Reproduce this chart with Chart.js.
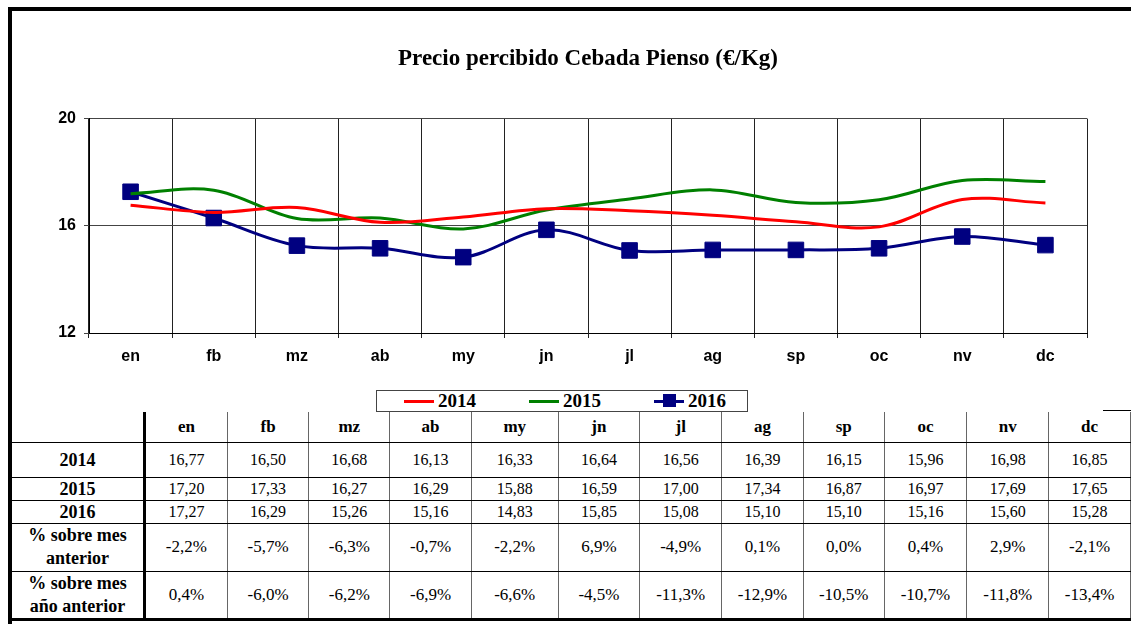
<!DOCTYPE html>
<html lang="es">
<head>
<meta charset="utf-8">
<title>Precio percibido Cebada Pienso</title>
<script src="https://cdn.jsdelivr.net/npm/chart.js@4.4.1/dist/chart.umd.min.js"></script>
<style>
  html, body { margin: 0; padding: 0; background: #fff; }
  #wrap { position: relative; width: 1131px; height: 624px; overflow: hidden; background: #fff; }
  #marco { position: absolute; left: 8px; top: 7px; width: 1200px; height: 700px;
           border-left: 4px solid #000; border-top: 4px solid #000; }
  #grafico { position: absolute; left: 0; top: 0; }
  #leyenda { position: absolute; left: 376px; top: 390px; width: 372px; height: 22px;
             border: 1px solid #444; background: #fff; display: flex; align-items: center;
             padding-left: 27px; box-sizing: border-box;
             font: bold 19px 'Liberation Serif', 'Times New Roman', serif; color: #000; }
  #leyenda .item { display: flex; align-items: center; margin-right: 53px; }
  #leyenda .simbolo { position: relative; width: 30px; height: 12px; margin-right: 4px; }
  #leyenda .simbolo .linea { position: absolute; left: 0; right: 0; top: 5px; height: 3px; }
  #leyenda .simbolo .cuadro { position: absolute; left: 9px; top: -1px; width: 13px; height: 13px; }
  #leyenda .texto { line-height: 20px; }
  #tabla { position: absolute; left: 12px; top: 412px; border-collapse: collapse; table-layout: fixed;
           font: 16px 'Liberation Serif', 'Times New Roman', serif; color: #000; }
  #tabla td { text-align: center; vertical-align: middle; padding: 0; line-height: 20px;
              border-left: 1px solid #666; border-right: 1px solid #666;
              border-top: 1px solid #000; border-bottom: 1px solid #000; white-space: nowrap; }
  #tabla tr.cab td { border-top: none; font-weight: bold; font-size: 17px; }
  #tabla tr.pct td { font-size: 17px; }
  #tabla td.rotulo { border-left: none; border-right: 3px solid #000; font-weight: bold; font-size: 18px; }
  #tabla tr.pct td.rotulo { white-space: normal; line-height: 23px; font-size: 18px; }
  #tabla tr.ultima td { border-bottom: 3px solid #000; }
  #remate { position: absolute; left: 1103px; top: 410px; width: 40px; height: 1px; background: #000; }
</style>
</head>
<body>
<div id="wrap">
  <div id="marco"></div>
  <canvas id="grafico" width="1131" height="380"></canvas>
  <div id="leyenda"></div>
  <div id="remate"></div>
  <table id="tabla"></table>
</div>
<script>
// Datos
const meses = ['en', 'fb', 'mz', 'ab', 'my', 'jn', 'jl', 'ag', 'sp', 'oc', 'nv', 'dc'];
const precio2014 = [16.77, 16.50, 16.68, 16.13, 16.33, 16.64, 16.56, 16.39, 16.15, 15.96, 16.98, 16.85];
const precio2015 = [17.20, 17.33, 16.27, 16.29, 15.88, 16.59, 17.00, 17.34, 16.87, 16.97, 17.69, 17.65];
const precio2016 = [17.27, 16.29, 15.26, 15.16, 14.83, 15.85, 15.08, 15.10, 15.10, 15.16, 15.60, 15.28];
const varMesAnterior = ['-2,2%', '-5,7%', '-6,3%', '-0,7%', '-2,2%', '6,9%', '-4,9%', '0,1%', '0,0%', '0,4%', '2,9%', '-2,1%'];
const varAnioAnterior = ['0,4%', '-6,0%', '-6,2%', '-6,9%', '-6,6%', '-4,5%', '-11,3%', '-12,9%', '-10,5%', '-10,7%', '-11,8%', '-13,4%'];
const ticksY = [12, 16, 20];

const fuenteEjes = { family: "'Liberation Sans', Arial, sans-serif", size: 16, weight: 'bold' };
const fuenteSerif = "'Liberation Serif', 'Times New Roman', serif";

const grafico = new Chart(document.getElementById('grafico'), {
    type: 'line',
    data: {
        labels: meses,
        datasets: [
            { label: '2014', data: precio2014, borderColor: '#FF0000', backgroundColor: '#FF0000',
              borderWidth: 3, pointRadius: 0, tension: 0.35 },
            { label: '2015', data: precio2015, borderColor: '#008000', backgroundColor: '#008000',
              borderWidth: 3, pointRadius: 0, tension: 0.35 },
            { label: '2016', data: precio2016, borderColor: '#000080', backgroundColor: '#000080',
              borderWidth: 3, pointStyle: 'rect', pointRadius: 11, pointBorderWidth: 1,
              pointBorderColor: '#000080', pointBackgroundColor: '#000080', tension: 0.35 }
        ]
    },
    options: {
        responsive: false,
        animation: false,
        layout: { padding: { left: 45, right: 44, top: 0, bottom: 13 } },
        plugins: {
            legend: { display: false },
            tooltip: { enabled: false },
            title: {
                display: true,
                fullSize: false,
                text: 'Precio percibido Cebada Pienso (€/Kg)',
                color: '#000',
                font: { family: fuenteSerif, size: 23, weight: 'bold' },
                padding: { top: 45, bottom: 46 }
            }
        },
        scales: {
            x: {
                offset: true,
                grid: {
                    offset: true,
                    color: ctx => ctx.index === meses.length ? '#888' : '#222',
                    tickLength: 5
                },
                border: { color: '#000' },
                ticks: { color: '#000', font: fuenteEjes, padding: 9, maxRotation: 0, autoSkip: false },
                afterFit: s => { s.height = 34; }
            },
            y: {
                min: 12,
                max: 20,
                afterBuildTicks: s => { s.ticks = ticksY.map(v => ({ value: v })); },
                grid: { color: '#444', tickLength: 5 },
                border: { color: '#000' },
                ticks: { color: '#000', font: fuenteEjes, padding: 8 },
                afterFit: s => { s.width = 44; }
            }
        }
    }
});

// Leyenda a partir de las series del gráfico
const leyenda = document.getElementById('leyenda');
grafico.data.datasets.forEach(ds => {
    const item = document.createElement('div');
    item.className = 'item';
    let simbolo = '<span class="linea" style="background:' + ds.borderColor + '"></span>';
    if (ds.pointStyle === 'rect') {
        simbolo += '<span class="cuadro" style="background:' + ds.pointBackgroundColor + '"></span>';
    }
    item.innerHTML = '<span class="simbolo">' + simbolo + '</span><span class="texto">' + ds.label + '</span>';
    leyenda.appendChild(item);
});

// Tabla de datos
const anchos = [133, 83, 82, 81, 82, 87, 82, 82, 82, 81, 83, 82, 82];
const tabla = document.getElementById('tabla');
const colgroup = document.createElement('colgroup');
anchos.forEach(a => {
    const c = document.createElement('col');
    c.style.width = a + 'px';
    colgroup.appendChild(c);
});
tabla.appendChild(colgroup);

const fmt = v => v.toFixed(2).replace('.', ',');
const filas = [
    { clase: 'cab', alto: 30, rotulo: '', celdas: meses },
    { clase: 'anio', alto: 35, rotulo: '2014', celdas: precio2014.map(fmt) },
    { clase: 'anio', alto: 23, rotulo: '2015', celdas: precio2015.map(fmt) },
    { clase: 'anio', alto: 23, rotulo: '2016', celdas: precio2016.map(fmt) },
    { clase: 'pct', alto: 48, rotulo: '% sobre mes anterior', celdas: varMesAnterior },
    { clase: 'pct ultima', alto: 47, rotulo: '% sobre mes año anterior', celdas: varAnioAnterior }
];
filas.forEach(f => {
    const tr = document.createElement('tr');
    tr.className = f.clase;
    tr.style.height = f.alto + 'px';
    let html = '<td class="rotulo">' + f.rotulo.replace('mes ', 'mes<br>') + '</td>';
    f.celdas.forEach(c => { html += '<td>' + c + '</td>'; });
    tr.innerHTML = html;
    tabla.appendChild(tr);
});
</script>
</body>
</html>
